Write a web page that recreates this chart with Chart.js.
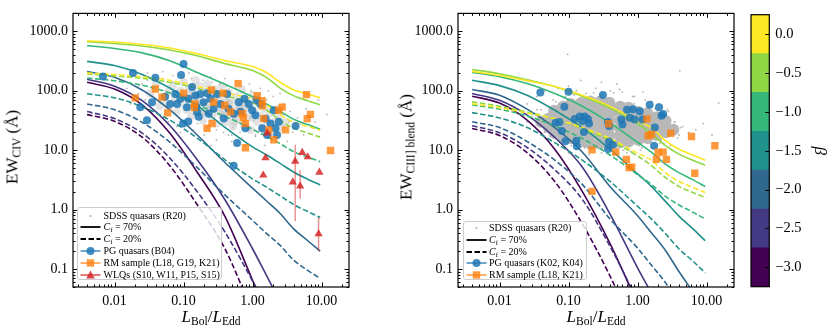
<!DOCTYPE html>
<html>
<head>
<meta charset="utf-8">
<script src="https://cdn.jsdelivr.net/npm/chart.js@4.4.1/dist/chart.umd.min.js"></script>
<style>
html,body{margin:0;padding:0;background:#fff;}
body{width:830px;height:333px;position:relative;overflow:hidden;font-family:"Liberation Serif","Times New Roman",serif;color:#000;}
canvas{position:absolute;top:0;}
.title{position:absolute;white-space:nowrap;font-size:17px;line-height:1;}
.rot{transform:translate(-50%,-50%) rotate(-90deg);}
.hc{transform:translate(-50%,-50%);}
sub{font-size:68%;vertical-align:-0.3em;line-height:0;}
.leg{position:absolute;background:rgba(255,255,255,0.8);border:1px solid #cccccc;border-radius:3px;box-sizing:border-box;}
.row{position:absolute;left:0;height:12px;width:100%;font-size:10px;line-height:12px;white-space:nowrap;}
.row svg{position:absolute;left:2px;top:0;}
.row span{position:absolute;left:25.5px;top:0;}
</style>
</head>
<body>
<canvas id="left" width="360" height="333" style="left:0px"></canvas>
<canvas id="right" width="365" height="333" style="left:380px"></canvas>
<canvas id="cbar" width="90" height="333" style="left:740px"></canvas>

<div class="title rot" style="left:12px;top:147px">EW<sub>CIV</sub> (Å)</div>
<div class="title hc" style="left:211px;top:316px"><i>L</i><sub>Bol</sub>/<i>L</i><sub>Edd</sub></div>
<div class="title rot" style="left:406px;top:147px">EW<sub>CIII] blend</sub> (Å)</div>
<div class="title hc" style="left:596px;top:316px"><i>L</i><sub>Bol</sub>/<i>L</i><sub>Edd</sub></div>

<div class="leg" style="left:77px;top:206.5px;width:145px;height:73.5px">
  <div class="row" style="top:2px"><svg width="21" height="12"><circle cx="10.5" cy="6" r="1.1" fill="#b0b0b0"/></svg><span>SDSS quasars (R20)</span></div>
  <div class="row" style="top:13.8px"><svg width="21" height="12"><line x1="0.5" y1="6" x2="20.5" y2="6" stroke="#000" stroke-width="1.8"/></svg><span><i>C</i><sub>f</sub> = 70%</span></div>
  <div class="row" style="top:25.6px"><svg width="21" height="12"><line x1="0.5" y1="6" x2="20.5" y2="6" stroke="#000" stroke-width="1.8" stroke-dasharray="5.5,2.5"/></svg><span><i>C</i><sub>f</sub> = 20%</span></div>
  <div class="row" style="top:37.4px"><svg width="21" height="12"><line x1="0.5" y1="6" x2="20.5" y2="6" stroke="rgba(31,119,180,0.85)" stroke-width="1.5"/><circle cx="10.5" cy="6" r="4" fill="rgba(31,119,180,0.85)"/></svg><span>PG quasars (B04)</span></div>
  <div class="row" style="top:49.2px"><svg width="21" height="12"><line x1="0.5" y1="6" x2="20.5" y2="6" stroke="rgba(255,127,14,0.8)" stroke-width="1.5"/><rect x="6.8" y="2.3" width="7.4" height="7.4" fill="rgba(255,127,14,0.8)"/></svg><span>RM sample (L18, G19, K21)</span></div>
  <div class="row" style="top:61px"><svg width="21" height="12"><line x1="0.5" y1="6" x2="20.5" y2="6" stroke="rgba(214,39,40,0.8)" stroke-width="1.5"/><polygon points="10.5,1.5 14.8,9.5 6.2,9.5" fill="rgba(214,39,40,0.85)"/></svg><span>WLQs (S10, W11, P15, S15)</span></div>
</div>

<div class="leg" style="left:462.5px;top:220.5px;width:124px;height:59.5px">
  <div class="row" style="top:0.3px"><svg width="21" height="12"><circle cx="10.5" cy="6" r="1.1" fill="#b0b0b0"/></svg><span>SDSS quasars (R20)</span></div>
  <div class="row" style="top:12.2px"><svg width="21" height="12"><line x1="0.5" y1="6" x2="20.5" y2="6" stroke="#000" stroke-width="1.8"/></svg><span><i>C</i><sub>f</sub> = 70%</span></div>
  <div class="row" style="top:24.1px"><svg width="21" height="12"><line x1="0.5" y1="6" x2="20.5" y2="6" stroke="#000" stroke-width="1.8" stroke-dasharray="5.5,2.5"/></svg><span><i>C</i><sub>f</sub> = 20%</span></div>
  <div class="row" style="top:35.9px"><svg width="21" height="12"><line x1="0.5" y1="6" x2="20.5" y2="6" stroke="rgba(31,119,180,0.85)" stroke-width="1.5"/><circle cx="10.5" cy="6" r="4" fill="rgba(31,119,180,0.85)"/></svg><span>PG quasars (K02, K04)</span></div>
  <div class="row" style="top:47.8px"><svg width="21" height="12"><line x1="0.5" y1="6" x2="20.5" y2="6" stroke="rgba(255,127,14,0.8)" stroke-width="1.5"/><rect x="6.8" y="2.3" width="7.4" height="7.4" fill="rgba(255,127,14,0.8)"/></svg><span>RM sample (L18, K21)</span></div>
</div>

<script>
// ---------------- axes / ticks ----------------
const xTickVals = [0.01, 0.1, 1, 10];
const xTickLabels = ['0.01', '0.10', '1.00', '10.00'];
const yTickVals = [0.1, 1, 10, 100, 1000];
const yTickLabels = ['0.1', '1.0', '10.0', '100.0', '1000.0'];

// ---------------- model curves ----------------
const betaValues = [0, -0.5, -1, -1.5, -2, -2.5, -3];
const betaColors = ['#fde725', '#8fd744', '#35b779', '#21918c', '#31688e', '#443983', '#440154'];
const curveX = [0.004, 0.01, 0.0251, 0.0631, 0.158, 0.398, 1.0, 1.585, 2.512, 3.98, 6.31, 9.55];

// C IV, Cf = 70%
const civSolidB0  = [692, 659, 600, 525, 418, 321, 255, 203, 139, 103, 88, 76];
const civSolidB05 = [671, 622, 566, 486, 387, 286, 219, 168, 111, 82, 68, 58];
const civSolidB1  = [573, 515, 434, 321, 203, 129, 79, 60, 45, 33, 27, 22.5];
const civSolidB15 = [312, 265, 188, 111, 56, 24.3, 11.4, 8.4, 6.0, 4.25, 3.25, 2.6];
const civSolidB2  = [211, 168, 103, 48, 18, 6.2, 2.3, 1.41, 0.86, 0.47, 0.30, 0.20];
const civSolidB25 = [156, 119, 68, 26, 6.9, 1.47, 0.22, 0.079, 0.028, null, null, null];
const civSolidB3  = [139, 107, 58, 19.4, 4.25, 0.77, 0.065, 0.019, null, null, null, null];
// C IV, Cf = 20%
const civDashB0  = [198, 188, 171, 150, 119, 92, 73, 58, 39.7, 29.4, 25.1, 21.7];
const civDashB05 = [192, 178, 162, 139, 110, 82, 63, 48, 31.7, 23.4, 19.4, 16.6];
const civDashB1  = [164, 147, 124, 92, 58, 37, 22.6, 17.1, 12.9, 9.4, 7.7, 6.4];
const civDashB15 = [89, 76, 54, 32, 16, 6.9, 3.3, 2.4, 1.71, 1.21, 0.93, 0.74];
const civDashB2  = [60, 48, 29.4, 13.7, 5.1, 1.77, 0.66, 0.40, 0.25, 0.14, 0.095, 0.07];
const civDashB25 = [44.6, 34, 19.4, 7.4, 2.0, 0.42, 0.063, 0.023, null, null, null, null];
const civDashB3  = [39.7, 30.6, 16.6, 5.5, 1.21, 0.22, 0.019, null, null, null, null, null];

// C III] blend, Cf = 70%
const ciiiSolidB0  = [212, 181, 148, 118, 84, 55, 31, 23.9, 14.6, 10.4, 8.3, 6.8];
const ciiiSolidB05 = [227, 193, 153, 118, 81, 51, 27.9, 19.1, 12.1, 8.6, 6.8, 5.6];
const ciiiSolidB1  = [204, 172, 132, 90, 55, 28.9, 13.6, 9.3, 5.9, 4.2, 3.2, 2.45];
const ciiiSolidB15 = [150, 122, 84, 47, 23.9, 10.4, 4.0, 2.46, 1.39, 0.78, 0.48, 0.30];
const ciiiSolidB2  = [105, 84, 49, 23.9, 9.3, 2.46, 0.79, 0.41, 0.21, 0.091, 0.042, null];
const ciiiSolidB25 = [90, 69, 39, 16.4, 5.2, 0.85, 0.105, 0.04, null, null, null, null];
const ciiiSolidB3  = [81, 62, 32, 10.4, 2.03, 0.27, 0.026, null, null, null, null, null];
// C III] blend, Cf = 20%
const ciiiDashB0  = [60.6, 51.7, 42.3, 33.7, 24, 15.7, 8.9, 6.8, 4.2, 3.0, 2.37, 1.94];
const ciiiDashB05 = [65, 55, 43.7, 33.7, 23.1, 14.6, 8.0, 5.5, 3.5, 2.46, 1.94, 1.6];
const ciiiDashB1  = [58, 49, 37.7, 25.7, 15.7, 8.3, 3.9, 2.66, 1.69, 1.2, 0.91, 0.7];
const ciiiDashB15 = [42.9, 34.9, 24, 13.4, 6.8, 3.0, 1.14, 0.70, 0.40, 0.22, 0.137, 0.086];
const ciiiDashB2  = [30, 24, 14, 6.8, 2.66, 0.70, 0.226, 0.117, 0.06, 0.026, null, null];
const ciiiDashB25 = [25.7, 19.7, 11.1, 4.7, 1.49, 0.243, 0.03, null, null, null, null, null];
const ciiiDashB3  = [23.1, 17.7, 9.1, 2.97, 0.58, 0.077, 0.0074, null, null, null, null, null];

// ---------------- observed samples, C IV panel ----------------
const civPgX = [0.0068,0.0185,0.039,0.100,0.092,0.035,0.0295,0.0236,0.076,0.0805,0.090,0.0984,0.133,0.148,0.112,0.157,0.196,0.166,0.219,0.231,0.273,0.306,0.342,0.382,0.428,0.533,0.631,0.597,0.533,0.789,0.881,0.986,1.10,1.30,1.38,1.54,1.63,2.03,2.15,2.27,2.40,4.2,0.064,0.054,0.117,0.175,0.245,0.117,0.447,0.667,1.14,1.82,0.762,0.153];
const civPgY = [173,198,166,283,184,64,32,53,88,60,73,28,116,83,53,44,64,36.5,91,41,50,88,60,34,88,41,64,13.2,5.5,23.4,60,47,38.7,60,23.4,34,18,47,23.4,18,30,25.5,60,79,73,88,73,30.5,50,44.5,70,28,73,54];
const civRmX = [0.020,0.039,0.0488,0.0588,0.100,0.145,0.143,0.253,0.219,0.259,0.374,0.273,0.395,0.478,0.618,0.706,0.737,0.789,1.17,1.38,1.45,1.39,1.72,2.03,2.69,2.40,3.0,6.05,6.2,6.9,13.5,0.79];
const civRmY = [76,107,78,42.5,91,60,52,103,23.4,28,91,64,57,44,132,41,35.5,11,83,68,34,56,22,15,53,47,22,86,34,40,9.9,28];
const civWlqX = [1.63,1.54,1.43,4.15,5.25,6.3,3.83,4.9,9.3,9.06];
const civWlqY = [19.4,7.4,3.8,6.5,9.1,7.7,2.9,2.5,4.25,0.39];
const civWlqErrLo = [null,null,null,0.64,null,null,null,1.52,null,0.2];
const civWlqErrHi = [null,null,null,12.4,null,null,null,4.6,null,0.75];
// SDSS (R20) cloud, C IV
const civCloudX = [0.033,0.04,0.045,0.05,0.06,0.06,0.07,0.075,0.08,0.09,0.09,0.1,0.1,0.11,0.12,0.12,0.13,0.14,0.15,0.15,0.17,0.17,0.18,0.19,0.2,0.21,0.22,0.23,0.25,0.26,0.28,0.28,0.3,0.31,0.33,0.35,0.36,0.38,0.4,0.42,0.45,0.46,0.5,0.52,0.55,0.58,0.62,0.65,0.7,0.72,0.75,0.8,0.85,0.9,0.95,1.0,1.05,1.15,1.2,1.3,1.4,1.5,1.6,1.8,1.9,2.1,2.4,2.6,3.0,0.15,0.2,0.3,0.4,0.5,0.6,0.25,0.35,0.8,0.12,0.18,0.45,0.7,1.0,0.27,0.55];
const civCloudY = [90,130,55,70,95,55,120,75,45,100,60,140,80,48,110,65,38,90,150,55,120,72,42,32,95,60,130,48,80,36,105,62,28,45,85,55,120,38,70,30,95,50,62,25,40,80,33,55,105,45,26,70,36,55,22,85,45,30,62,38,24,50,32,42,22,30,38,24,30,70,45,70,48,38,48,52,40,50,85,58,65,62,35,95,30];
const civHaloX = [0.012,0.015,0.02,0.025,0.028,0.03,0.035,0.05,0.055,0.07,0.08,0.12,0.14,0.18,0.2,0.25,0.3,0.4,0.45,0.6,0.7,0.9,1.1,1.3,1.6,2.0,2.2,2.8,3.5,3.8,4.5,5.0,6,8,9,12,0.5,0.8,0.25,1.5,0.09,0.06,0.022,0.017,3.2,2.5,1.7,5.5,
  0.022,0.03,0.04,0.045,0.05,0.065,0.07,0.085,0.1,0.11,0.13,0.16,0.19,0.22,0.26,0.3,0.34,0.38,0.42,0.5,0.58,0.66,0.75,0.85,0.95,1.1,1.25,1.4,1.6,1.9,2.3,2.8,3.4,4.2,0.14,0.24,0.36,0.52,0.9,1.2];
const civHaloY = [150,110,180,130,70,200,160,210,35,180,25,200,22,190,18,170,15,160,18,150,16,130,17,110,16,80,18,60,45,20,35,28,50,30,70,40,14,12,12,12,20,30,90,60,14,90,100,18,
  120,150,100,75,160,50,140,35,170,28,160,28,150,25,140,22,130,20,120,18,110,20,95,22,100,18,85,20,70,18,55,40,30,25,40,32,28,24,22,20];

// ---------------- observed samples, C III] panel ----------------
const ciiiPgX = [0.039,0.100,0.315,0.087,0.074,0.080,0.090,0.123,0.130,0.132,0.145,0.158,0.167,0.191,0.198,0.373,0.386,0.386,0.44,0.373,0.583,0.604,0.705,0.861,0.771,0.91,1.077,1.18,1.50,1.78,1.74,2.05,2.22,2.35,0.171,0.065];
const ciiiPgY = [93,96,85,54,29.7,21,14.2,33.6,14.4,11.6,37,30.9,20.3,33.6,28,29.7,25.5,13.9,12.2,10.5,32.8,27.1,47.9,49,35,32.8,45,32.8,58,24,11.9,53,38,40.7,37,28.9];
const ciiiRmX = [0.219,0.382,0.483,0.69,0.753,0.824,1.37,1.42,1.59,1.88,1.99,2.35,2.62,3.03,6.05,6.76,13.2,0.219];
const ciiiRmY = [10.1,27.9,9.3,7.0,5.1,5.2,33.6,17.5,18.4,7.0,9.3,9.3,7.0,19.3,17,4.1,11.9,2.03];
const ciiiCloudX = [0.04,0.052,0.052,0.062,0.062,0.062,0.062,0.083,0.083,0.083,0.083,0.083,0.108,0.108,0.108,0.108,0.108,0.108,0.152,0.152,0.152,0.152,0.152,0.152,0.205,0.205,0.205,0.205,0.205,0.205,0.205,0.285,0.285,0.285,0.285,0.285,0.285,0.285,0.39,0.39,0.39,0.39,0.39,0.39,0.39,0.56,0.56,0.56,0.56,0.56,0.56,0.74,0.74,0.74,0.74,0.74,0.74,1.02,1.02,1.02,1.02,1.02,1.38,1.38,1.38,1.38,1.38,1.9,1.9,1.9,1.9,2.55,2.55,2.55,3.3];
const ciiiCloudY = [30,24,34,20,27,37,46,17,23,31,42,54,16,21,28,38,50,60,14,19,26,35,47,62,13,18,24,33,45,60,66,13,17.5,24,32,43,57,65,13,17.5,24,32,42,55,63,13.5,18,24,32,42,54,14,19,25,33,43,52,15,20,26,34,44,16,21,27,35,42,18,23,29,36,20,25,31,22];
const ciiiHaloX = [0.02,0.025,0.03,0.032,0.035,0.045,0.05,0.07,0.07,0.1,0.1,0.097,0.13,0.16,0.2,0.25,0.3,0.4,0.45,0.6,0.7,0.9,1.1,1.3,1.6,2.0,2.4,2.8,3.5,4,4.5,5.5,7,9,12,3,0.15,0.5,1.2,0.06,0.04,4.1,15,0.035,0.025,0.3,0.55,0.8,1.8,2.2,3.8,0.12,0.18,
  0.03,0.035,0.04,0.045,0.05,0.055,0.065,0.075,0.09,0.11,0.13,0.17,0.23,0.32,0.45,0.62,0.85,1.15,1.6,2.1,2.7,3.4,4.2,3.0,2.2,1.5,1.05,0.72,0.5,0.35,0.24,0.17,0.12,0.085,0.06,0.045,0.038,0.1,0.3,0.9];
const ciiiHaloY = [45,60,35,25,80,100,15,110,12,9,120,410,100,9,8.5,110,9,100,8.5,95,9,80,10,70,11,60,13,45,30,18,25,20,22,28,18,12,150,130,95,70,20,218,62,48,30,140,105,9.5,50,14,16,85,90,
  40,30,48,20,55,17,65,14,80,12,88,11,92,10,92,10,80,11,66,13,48,30,24,18,15,13,12,11,10.5,10.5,11,11.5,12.5,14,16,24,35,70,85,60];

// ---------------- colour bar ----------------
const cbEdges = [-3.25, -2.75, -2.25, -1.75, -1.25, -0.75, -0.25, 0.25];
const cbTicks = [-3, -2.5, -2, -1.5, -1, -0.5, 0];
const cbTickLabels = ['\u22123.0', '\u22122.5', '\u22122.0', '\u22121.5', '\u22121.0', '\u22120.5', '0.0'];

// ---------------- helpers ----------------
const FONT = 'Liberation Serif';
const zip = (xs, ys) => xs.map((x, i) => ({x: x, y: ys[i]}));
const labelFor = (vals, labels) => (v) => {
  const i = vals.findIndex(t => Math.abs(Math.log10(t) - Math.log10(v)) < 1e-6);
  return i >= 0 ? labels[i] : '';
};

const frameTicks = {
  id: 'frameTicks',
  afterDatasetsDraw(chart) {
    const ctx = chart.ctx, a = chart.chartArea;
    ctx.save();
    ctx.strokeStyle = '#000';
    ctx.lineWidth = 1;
    const drawLog = (scale, horiz) => {
      const lo = Math.floor(Math.log10(scale.min)), hi = Math.ceil(Math.log10(scale.max));
      for (let e = lo; e <= hi; e++) {
        for (let m = 1; m < 10; m++) {
          const v = m * Math.pow(10, e);
          if (v < scale.min || v > scale.max) continue;
          const p = Math.round(scale.getPixelForValue(v)) + 0.5;
          const len = m === 1 ? 4.5 : 2.5;
          ctx.beginPath();
          if (horiz) {
            ctx.moveTo(p, a.bottom); ctx.lineTo(p, a.bottom - len);
            ctx.moveTo(p, a.top); ctx.lineTo(p, a.top + len);
          } else {
            ctx.moveTo(a.left, p); ctx.lineTo(a.left + len, p);
            ctx.moveTo(a.right, p); ctx.lineTo(a.right - len, p);
          }
          ctx.stroke();
        }
      }
    };
    drawLog(chart.scales.x, true);
    drawLog(chart.scales.y, false);
    ctx.lineWidth = 1.2;
    ctx.strokeRect(a.left, a.top, a.right - a.left, a.bottom - a.top);
    ctx.restore();
  }
};

function curveSets(solid, dash) {
  const out = [];
  for (let i = 0; i < betaValues.length; i++) {
    [[solid[i], []], [dash[i], [5.5, 2.5]]].forEach(([ys, d]) => {
      out.push({
        data: curveX.map((x, j) => ({x: x, y: ys[j]})).filter(p => p.y !== null),
        showLine: true, borderColor: betaColors[i], backgroundColor: betaColors[i],
        borderWidth: 1.6, borderDash: d, pointRadius: 0, tension: 0.4,
        cubicInterpolationMode: 'monotone', order: 5
      });
    });
  }
  return out;
}

function panel(id, yWidth, datasets) {
  return new Chart(document.getElementById(id), {
    type: 'scatter',
    data: { datasets: datasets },
    options: {
      responsive: false, animation: false, events: [],
      layout: { padding: { left: 0, right: 11, top: 7.5, bottom: 0 } },
      plugins: { legend: { display: false }, tooltip: { enabled: false } },
      scales: {
        x: {
          type: 'logarithmic', min: 0.0025, max: 25,
          afterBuildTicks: s => { s.ticks = xTickVals.map(v => ({ value: v })); },
          afterFit: s => { s.height = 46; },
          grid: { display: false, drawTicks: false }, border: { display: false },
          ticks: { callback: labelFor(xTickVals, xTickLabels), font: { family: FONT, size: 14 }, color: '#000', padding: 6, maxRotation: 0, autoSkip: false }
        },
        y: {
          type: 'logarithmic', min: 0.05, max: 2000,
          afterBuildTicks: s => { s.ticks = yTickVals.map(v => ({ value: v })); },
          afterFit: s => { s.width = yWidth; },
          grid: { display: false, drawTicks: false }, border: { display: false },
          ticks: { callback: labelFor(yTickVals, yTickLabels), font: { family: FONT, size: 14 }, color: '#000', padding: 5, autoSkip: false }
        }
      }
    },
    plugins: [frameTicks]
  });
}

const PG = 'rgba(31,119,180,0.85)', RM = 'rgba(255,127,14,0.8)', WLQ = 'rgba(214,39,40,0.85)';

function build() {
  // ---- left: C IV ----
  const leftSets = [];
  leftSets.push({ data: zip(civWlqX, civWlqY), pointStyle: 'triangle', pointRadius: 4.8, backgroundColor: WLQ, borderColor: WLQ, borderWidth: 0, order: 0 });
  leftSets.push({ data: zip(civRmX, civRmY), pointStyle: 'rect', pointRadius: 5.2, backgroundColor: RM, borderColor: RM, borderWidth: 0, order: 1 });
  leftSets.push({ data: zip(civPgX, civPgY), pointStyle: 'circle', pointRadius: 4, backgroundColor: PG, borderColor: PG, borderWidth: 0, order: 2 });
  civWlqX.forEach((x, i) => {
    if (civWlqErrLo[i] === null) return;
    leftSets.push({ data: [{x: x, y: civWlqErrLo[i]}, {x: x, y: civWlqErrHi[i]}], showLine: true, pointRadius: 0, borderColor: 'rgba(214,39,40,0.5)', borderWidth: 1.5, order: 3 });
  });
  leftSets.push(...curveSets(
    [civSolidB0, civSolidB05, civSolidB1, civSolidB15, civSolidB2, civSolidB25, civSolidB3],
    [civDashB0, civDashB05, civDashB1, civDashB15, civDashB2, civDashB25, civDashB3]));
  leftSets.push({ data: zip(civHaloX, civHaloY), pointRadius: 0.9, backgroundColor: '#b8b8b8', borderWidth: 0, order: 6 });
  leftSets.push({ data: zip(civCloudX, civCloudY), pointRadius: 4.2, backgroundColor: 'rgba(185,185,185,0.4)', borderWidth: 0, order: 7 });
  panel('left', 73, leftSets);

  // ---- right: C III] ----
  const rightSets = [];
  rightSets.push({ data: zip(ciiiRmX, ciiiRmY), pointStyle: 'rect', pointRadius: 5.2, backgroundColor: RM, borderColor: RM, borderWidth: 0, order: 1 });
  rightSets.push({ data: zip(ciiiPgX, ciiiPgY), pointStyle: 'circle', pointRadius: 4, backgroundColor: PG, borderColor: PG, borderWidth: 0, order: 2 });
  rightSets.push(...curveSets(
    [ciiiSolidB0, ciiiSolidB05, ciiiSolidB1, ciiiSolidB15, ciiiSolidB2, ciiiSolidB25, ciiiSolidB3],
    [ciiiDashB0, ciiiDashB05, ciiiDashB1, ciiiDashB15, ciiiDashB2, ciiiDashB25, ciiiDashB3]));
  rightSets.push({ data: zip(ciiiHaloX, ciiiHaloY), pointRadius: 0.9, backgroundColor: '#b0b0b0', borderWidth: 0, order: 6 });
  rightSets.push({ data: zip(ciiiCloudX, ciiiCloudY), pointRadius: 6, backgroundColor: '#b8b8b8', borderWidth: 0, order: 7 });
  panel('right', 78, rightSets);

  // ---- colour bar ----
  const cbColors = betaColors.slice().reverse();
  const cbFrame = {
    id: 'cbFrame',
    afterDatasetsDraw(chart) {
      const ctx = chart.ctx, a = chart.chartArea, y = chart.scales.y;
      ctx.save();
      ctx.strokeStyle = '#000'; ctx.lineWidth = 1;
      cbTicks.forEach(v => {
        const p = Math.round(y.getPixelForValue(v)) + 0.5;
        ctx.beginPath(); ctx.moveTo(a.right, p); ctx.lineTo(a.right - 4, p); ctx.stroke();
      });
      ctx.lineWidth = 1.2;
      ctx.strokeRect(a.left, a.top, a.right - a.left, a.bottom - a.top);
      ctx.restore();
    }
  };
  new Chart(document.getElementById('cbar'), {
    type: 'bar',
    data: {
      labels: ['\u03b2'],
      datasets: cbColors.map((c, i) => ({
        label: String(betaValues[betaValues.length - 1 - i]),
        data: [[cbEdges[i], cbEdges[i + 1]]],
        backgroundColor: c, borderWidth: 0, borderSkipped: false,
        barPercentage: 1, categoryPercentage: 1, grouped: false
      }))
    },
    options: {
      responsive: false, animation: false, events: [],
      layout: { padding: { left: 11, right: 0, top: 8.3, bottom: 46.3 } },
      plugins: { legend: { display: false }, tooltip: { enabled: false } },
      scales: {
        x: { display: false },
        y: {
          position: 'right', min: -3.25, max: 0.25,
          afterBuildTicks: s => { s.ticks = cbTicks.map(v => ({ value: v })); },
          afterFit: s => { s.width = 60.7; },
          grid: { display: false, drawTicks: false }, border: { display: false },
          ticks: { callback: v => { const i = cbTicks.findIndex(t => Math.abs(t - v) < 1e-9); return i >= 0 ? cbTickLabels[i] : ''; }, font: { family: FONT, size: 14.5 }, color: '#000', padding: 6, autoSkip: false },
          title: { display: true, text: '\u03b2', font: { family: FONT, size: 17, style: 'italic' }, color: '#000', padding: { top: 0, bottom: 4 } }
        }
      }
    },
    plugins: [cbFrame]
  });
}

if (document.fonts && document.fonts.load) {
  Promise.all([document.fonts.load('14px "Liberation Serif"'), document.fonts.load('italic 17px "Liberation Serif"')]).then(build, build);
} else { build(); }
</script>
</body>
</html>
